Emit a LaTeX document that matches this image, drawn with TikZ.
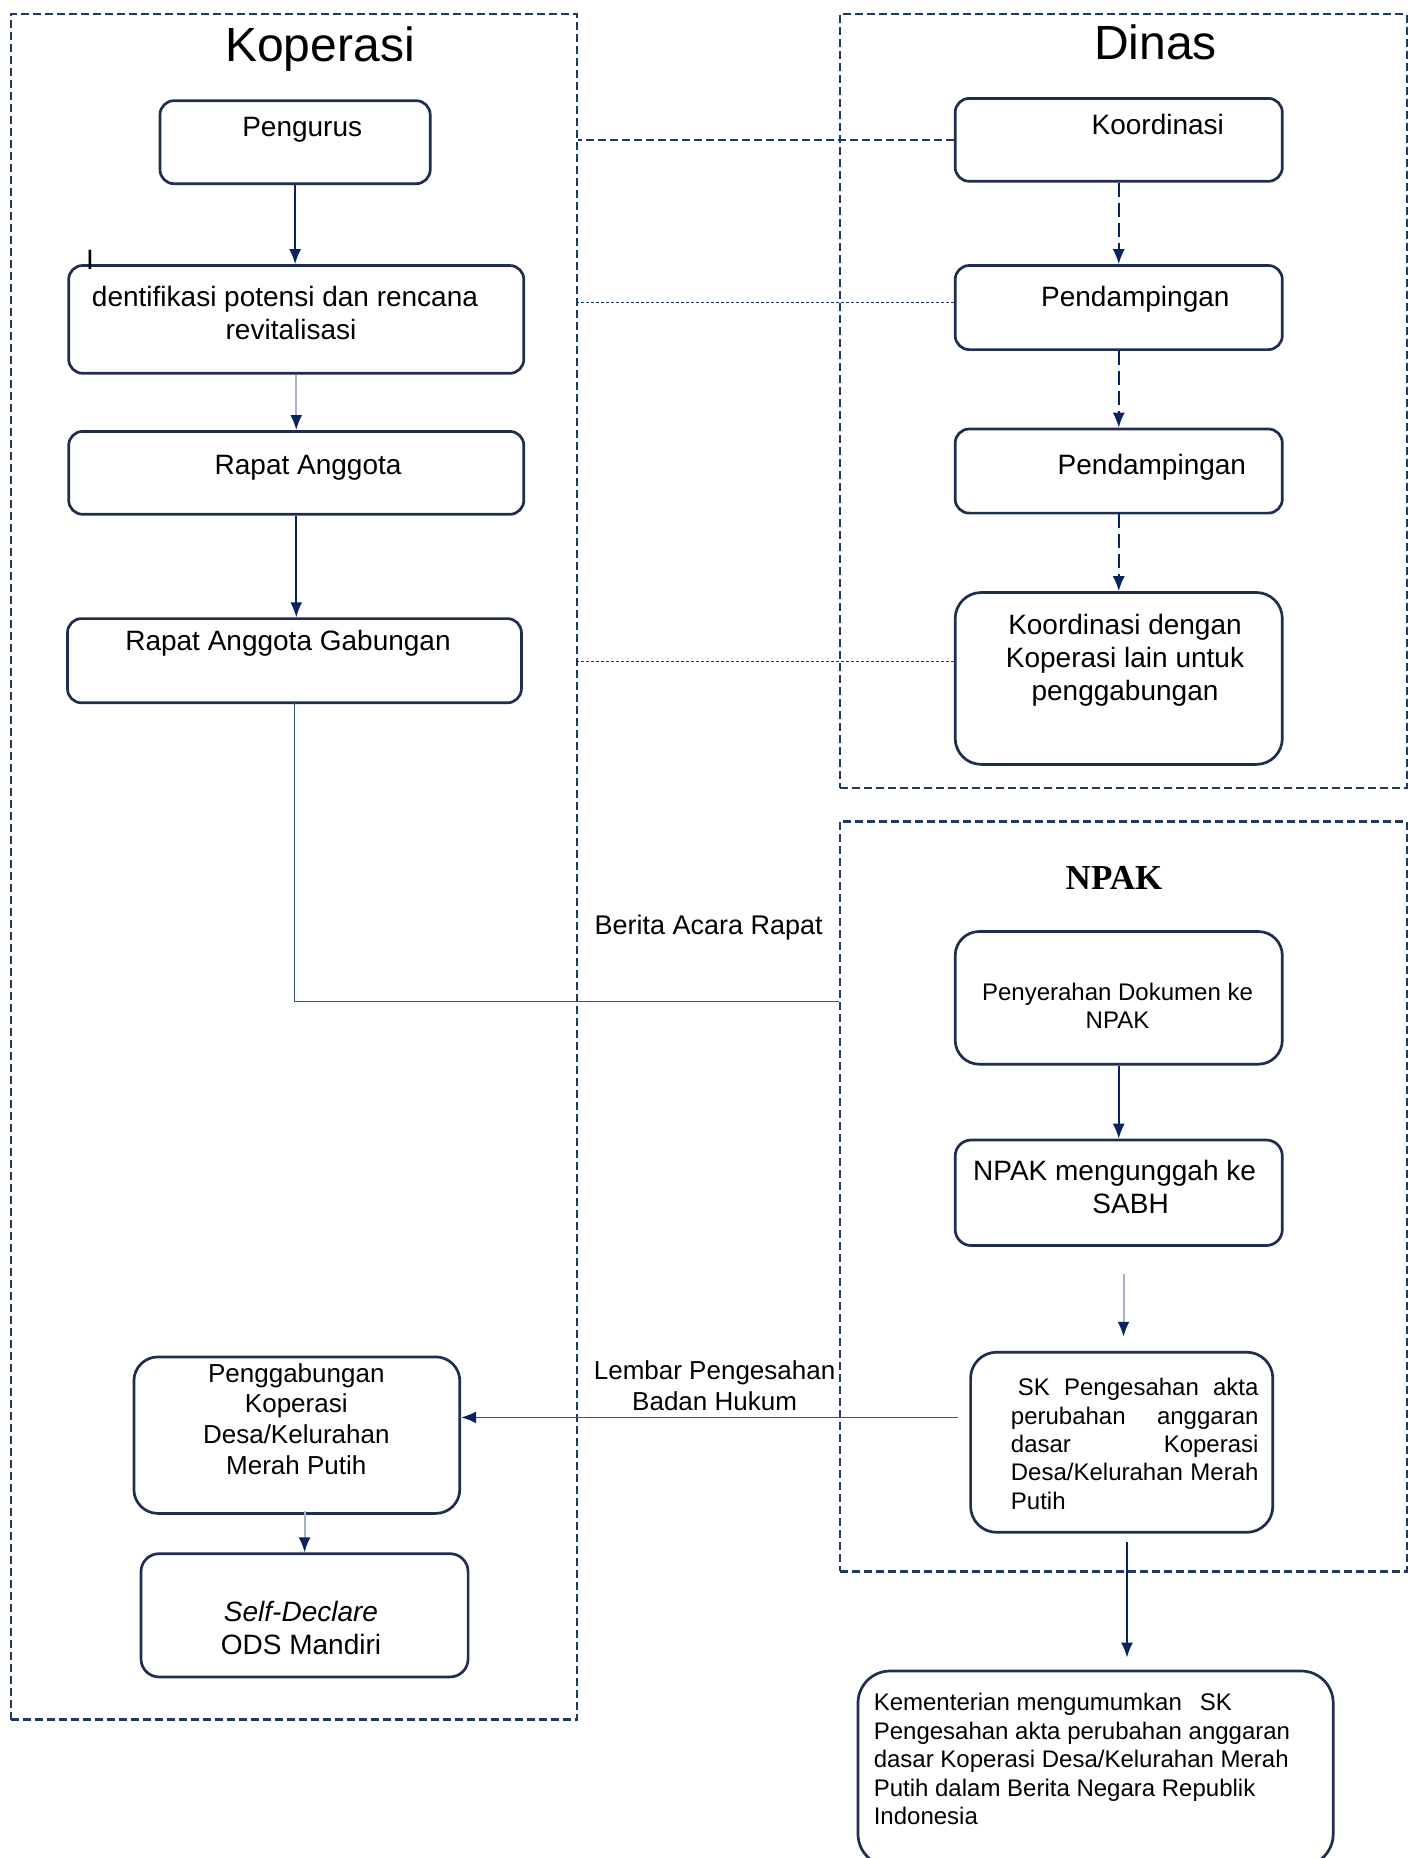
\documentclass[tikz,border=0pt]{standalone}
\usepackage{fontspec}
\setmainfont{Liberation Sans}
\newfontfamily\npakfont{Liberation Serif}
\usetikzlibrary{arrows.meta,fit,calc}
\definecolor{navy}{HTML}{1F3864}
\definecolor{boxc}{HTML}{1F2D4F}
\definecolor{arrc}{HTML}{0B2260}
\definecolor{linec}{HTML}{3A5486}
\definecolor{lightc}{HTML}{A7B3CC}
\begin{document}
\begin{tikzpicture}[x=0.5pt,y=-0.5pt,
  box/.style={draw=boxc, line width=1.35pt, rounded corners=7pt, inner sep=0pt},
  cont/.style={draw=navy, line width=1.2pt, dash pattern=on 4pt off 2pt, inner sep=0pt},
  t14/.style={font=\fontsize{14}{16.5}\selectfont, align=center, inner sep=0pt},
  t13/.style={font=\fontsize{13}{15.4}\selectfont, align=center, inner sep=0pt},
  t12/.style={font=\fontsize{12}{14.2}\selectfont, align=center, inner sep=0pt},
  ttl/.style={font=\fontsize{24}{28}\selectfont, inner sep=0pt},
  tip/.style={-{Latex[length=7.5pt,width=6pt,color=arrc,fill=arrc]}},
  arr/.style={draw=arrc, line width=0.8pt, tip},
  lightarr/.style={draw=lightc, line width=1pt, tip},
  dasharr/.style={arr, dash pattern=on 7pt off 3pt},
  conn/.style={draw=linec, line width=0.8pt},
  link/.style={draw=navy, line width=0.9pt, dash pattern=on 4pt off 2pt},
  dotlink/.style={draw=navy, line width=0.55pt, dash pattern=on 1.5pt off 1pt}
]
\useasboundingbox (0,0) rectangle (1415,1858);
\clip (0,0) rectangle (1415,1858);

% containers
\node[cont, fit={(10.7,14.2) (577.1,1719.6)}] (kop) {};
\node[cont, fit={(840.2,14.2) (1406.7,788.1)}] (din) {};
\node[cont, fit={(840.2,821.3) (1406.7,1571.4)}] (npk) {};

% titles
\node[ttl, anchor=base] (tkop) at (320,61.5) {Koperasi};
\node[ttl, anchor=base] (tdin) at (1155.4,59.5) {Dinas};
\node[anchor=base, inner sep=0pt, font=\npakfont\bfseries\fontsize{17.5}{20}\selectfont] (tnpak) at (1114,889) {NPAK};

% boxes
\node[box, fit={(160,100.7) (430.2,183.7)}] (peng) {};
\node[box, fit={(68.7,265.5) (523.8,373.3)}] (ident) {};
\node[box, fit={(68.7,431.4) (523.8,514.3)}] (rapa) {};
\node[box, fit={(67.5,618.6) (521.4,702.8)}] (rag) {};
\node[box, rounded corners=12pt, fit={(133.9,1356.9) (459.8,1513.4)}] (gab) {};
\node[box, rounded corners=9pt, fit={(141,1553.7) (468.1,1676.9)}] (sd) {};
\node[box, fit={(955.2,98.4) (1282.3,181.3)}] (koord) {};
\node[box, fit={(955.2,265.5) (1282.3,349.6)}] (pend1) {};
\node[box, fit={(955.2,429) (1282.3,513.1)}] (pend2) {};
\node[box, rounded corners=13pt, fit={(955.2,592.5) (1282.3,764.4)}] (kd) {};
\node[box, rounded corners=12pt, fit={(955.2,931.5) (1282.3,1064.2)}] (peny) {};
\node[box, rounded corners=8pt, fit={(955.2,1140) (1282.3,1245.5)}] (npup) {};
\node[box, rounded corners=13pt, fit={(970.6,1352.2) (1272.8,1532.3)}] (sk) {};
\node[box, rounded corners=16pt, fit={(858,1671) (1333.2,1866)}] (kem) {};

% texts
\node[t14, anchor=base] (tpeng) at (302.2,136.5) {Pengurus};
\node[t14, anchor=base] (ibar) at (90,269) {I};
\node[t14] (tident) at (285,313) {dentifikasi potensi dan rencana\\\hspace*{6pt}revitalisasi};
\node[t14, anchor=base] (trapa) at (308.1,474.5) {Rapat Anggota};
\node[t14, anchor=base] (trag) at (288,650) {Rapat Anggota Gabungan};
\node[t14, anchor=base] (tkoord) at (1157.8,134.4) {Koordinasi};
\node[t14, anchor=base] (tpend1) at (1135.3,306.3) {Pendampingan};
\node[t14, anchor=base] (tpend2) at (1151.9,474.6) {Pendampingan};
\node[t14] (tkd) at (1125,660.5) {Koordinasi dengan\\Koperasi lain untuk\\penggabungan};
\node[t12] (tpeny) at (1117.5,1006) {Penyerahan Dokumen ke\\NPAK};
\node[t14] (tnpup) at (1114.6,1187) {NPAK mengunggah ke\\\hspace*{16pt}SABH};
\node[t12, align=left] (tsk) at (1134.7,1444) {\hspace*{3.5pt}\makebox[120.3pt][s]{SK Pengesahan akta}\\
\makebox[123.8pt][s]{perubahan anggaran}\\
\makebox[123.8pt][s]{dasar Koperasi}\\
\makebox[123.8pt][s]{Desa/Kelurahan Merah}\\
Putih};
\node[t13] (tgab) at (296.3,1419) {Penggabungan\\Koperasi\\Desa/Kelurahan\\Merah Putih};
\node[t14] (tsd) at (301,1628) {\textit{Self-Declare}\\ODS Mandiri};
\node[t13] (tlem) at (714.6,1386) {Lembar Pengesahan\\Badan Hukum};
\node[anchor=base, inner sep=0pt, font=\fontsize{13.5}{16}\selectfont] (tber) at (708.7,934) {Berita Acara Rapat};
\node[t12, align=left, anchor=north west] (tkem) at (873.4,1693) {Kementerian mengumumkan\hspace{9pt}SK\\
Pengesahan akta perubahan anggaran\\
dasar Koperasi Desa/Kelurahan Merah\\
Putih dalam Berita Negara Republik\\
Indonesia};

% Koperasi flow
\draw[arr] (peng.south) -- (peng.south |- ident.north);
\draw[lightarr] (ident.south) -- (ident.south |- rapa.north);
\draw[arr] (rapa.south) -- (rapa.south |- rag.north);
\draw[conn] ([yshift=1.5pt]rag.south) |- (npk.west |- 0,1001.4);
\draw[lightarr] ([yshift=2pt]sd.north |- gab.south) -- (sd.north);

% Dinas flow
\draw[dasharr] (koord.south) -- (pend1.north);
\draw[dasharr] (pend1.south) -- (pend2.north);
\draw[dasharr] (pend2.south) -- (kd.north);
\draw[link] (koord.west) -- (koord.west -| kop.east);
\draw[dotlink] ([yshift=2.5pt]pend1.west) -- ([yshift=2.5pt]pend1.west -| kop.east);
\draw[dotlink] ([yshift=8.5pt]kd.west) -- ([yshift=8.5pt]kd.west -| kop.east);

% NPAK flow
\draw[arr] (peny.south) -- (npup.north);
\coordinate (la1) at (1123.5,1274);
\coordinate (la2) at (1123.5,1336.8);
\draw[lightarr] (la1) -- (la2);
\coordinate (sk1) at (957.5,1417.4);
\draw[conn, tip] (sk1) -- (sk1 -| gab.east);
\coordinate (k1) at (1127,1541.8);
\draw[arr, line width=1.1pt, shorten >=6pt] (k1) -- (k1 |- kem.north);
\end{tikzpicture}
\end{document}
